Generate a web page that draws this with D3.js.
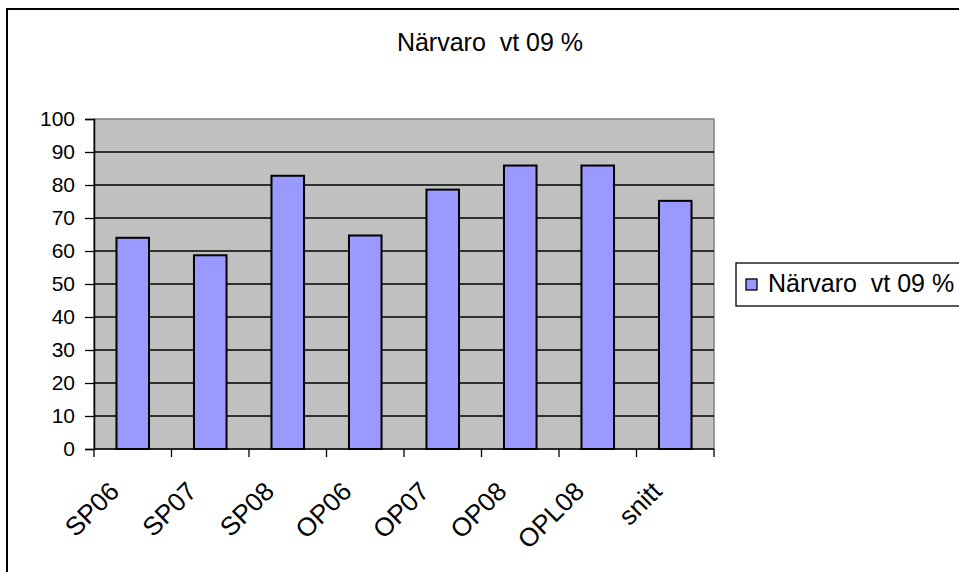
<!DOCTYPE html>
<html>
<head>
<meta charset="utf-8">
<script src="https://cdn.jsdelivr.net/npm/d3@7"></script>
<style>
  body { margin: 0; background: #fff; }
  text { font-family: "Liberation Sans", Arial, sans-serif; fill: #000; white-space: pre; }
</style>
</head>
<body>
<div id="chart"></div>
<script>
// data
var categories = ["SP06", "SP07", "SP08", "OP06", "OP07", "OP08", "OPL08", "snitt"];
var values = [64, 58.7, 82.8, 64.7, 78.6, 85.9, 85.9, 75.2];
var yTicks = [0, 10, 20, 30, 40, 50, 60, 70, 80, 90, 100];
var seriesName = "Närvaro  vt 09 %";

var svgWidth = 959, svgHeight = 572;
var margin = { top: 119, right: 245, bottom: 123, left: 94 };
var width = svgWidth - margin.left - margin.right;
var height = svgHeight - margin.top - margin.bottom;

var svg = d3.select("#chart").append("svg")
  .attr("width", svgWidth)
  .attr("height", svgHeight);

// outer chart frame
svg.append("rect")
  .attr("x", 7).attr("y", 9)
  .attr("width", 980).attr("height", 600)
  .attr("fill", "#fff")
  .attr("stroke", "#000")
  .attr("stroke-width", 2);

svg.append("text")
  .attr("x", 490).attr("y", 51)
  .attr("text-anchor", "middle")
  .style("font-size", "25px")
  .text(seriesName);

var chartGroup = svg.append("g")
  .attr("transform", `translate(${margin.left}, ${margin.top})`);

var xScale = d3.scaleBand()
  .domain(categories)
  .range([0, width])
  .paddingInner(0.58)
  .paddingOuter(0.29);

var yScale = d3.scaleLinear()
  .domain([0, 100])
  .range([height, 0]);

// plot area
chartGroup.append("rect")
  .attr("width", width).attr("height", height)
  .attr("fill", "#c0c0c0")
  .attr("stroke", "#808080")
  .attr("stroke-width", 1.5);

// gridlines
chartGroup.selectAll(".grid")
  .data(yTicks.filter(d => d > 0 && d < 100))
  .enter()
  .append("line")
  .attr("x1", 0).attr("x2", width)
  .attr("y1", d => yScale(d)).attr("y2", d => yScale(d))
  .attr("stroke", "#000")
  .attr("stroke-width", 1.3);

// bars
chartGroup.selectAll(".bar")
  .data(values)
  .enter()
  .append("rect")
  .attr("x", (d, i) => xScale(categories[i]))
  .attr("y", d => yScale(d))
  .attr("width", xScale.bandwidth())
  .attr("height", d => height - yScale(d))
  .attr("fill", "#9999ff")
  .attr("stroke", "#000")
  .attr("stroke-width", 2);

// y axis
var yAxis = d3.axisLeft(yScale).tickValues(yTicks).tickSize(9).tickPadding(10);
var yg = chartGroup.append("g").call(yAxis);
yg.select(".domain").attr("stroke", "#000").attr("stroke-width", 1.5);
yg.selectAll(".tick line").attr("stroke", "#000").attr("stroke-width", 1.3);
yg.selectAll("text").style("font-size", "21px").attr("fill", "#000");

// x axis: ticks at category boundaries
var step = xScale.step();
var xg = chartGroup.append("g").attr("transform", `translate(0, ${height})`);
xg.append("line")
  .attr("x1", 0).attr("x2", width)
  .attr("stroke", "#000").attr("stroke-width", 1.5);
xg.selectAll(".xtick")
  .data(d3.range(categories.length + 1))
  .enter()
  .append("line")
  .attr("x1", d => d * step).attr("x2", d => d * step)
  .attr("y1", 0).attr("y2", 8)
  .attr("stroke", "#000").attr("stroke-width", 1.3);
xg.selectAll(".xlabel")
  .data(categories)
  .enter()
  .append("text")
  .attr("transform", d => `translate(${xScale(d) + xScale.bandwidth() / 2 - 12}, 44) rotate(-45)`)
  .attr("text-anchor", "end")
  .style("font-size", "26px")
  .text(d => d);

// legend
var legend = svg.append("g").attr("transform", "translate(736, 263)");
legend.append("rect")
  .attr("width", 260).attr("height", 43)
  .attr("fill", "#fff")
  .attr("stroke", "#000")
  .attr("stroke-width", 1.3);
legend.append("rect")
  .attr("x", 10).attr("y", 16)
  .attr("width", 11).attr("height", 11)
  .attr("fill", "#9999ff")
  .attr("stroke", "#000")
  .attr("stroke-width", 1.3);
legend.append("text")
  .attr("x", 32).attr("y", 29)
  .style("font-size", "25px")
  .text(seriesName);
</script>
</body>
</html>
